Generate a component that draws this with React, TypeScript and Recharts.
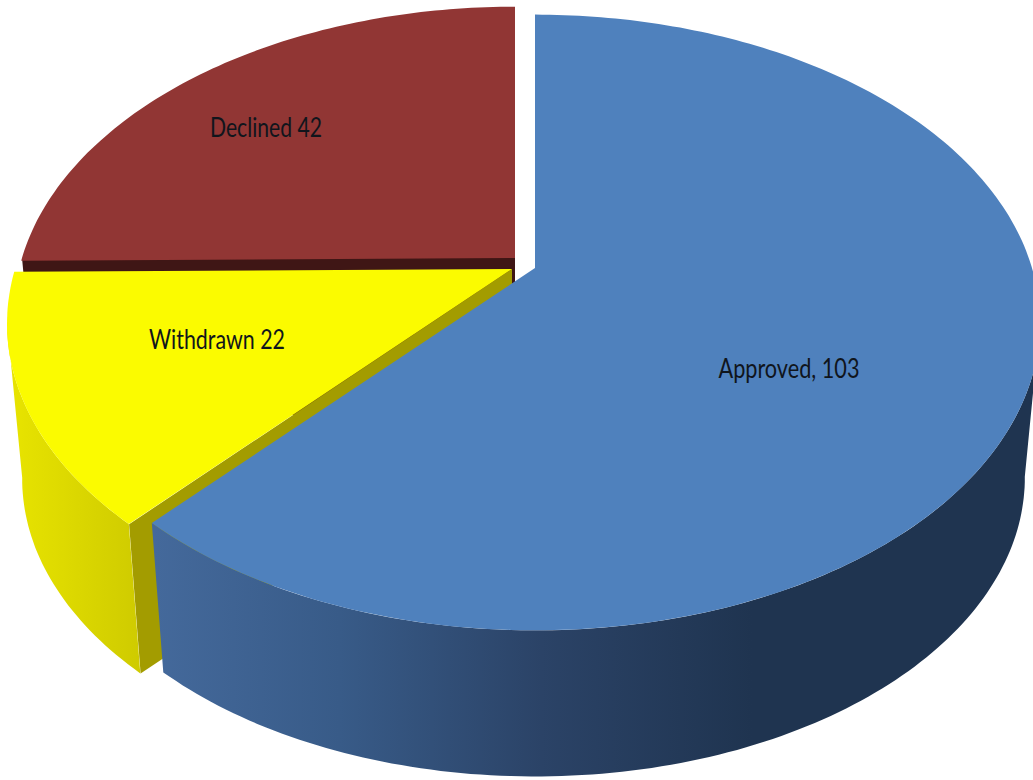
import React from 'react';
import { PieChart, Pie } from 'recharts';

const categories = ['Declined', 'Withdrawn', 'Approved'];
const values = [42, 22, 103];
const labels = ['Declined 42', 'Withdrawn 22', 'Approved, 103'];

const rows = categories.map((name, i) => ({ name, value: values[i], text: labels[i] }));

// Perspective of the tilted disc
const TILT = 0.177;
const Y_SQUASH = 0.6;
const DEPTH = 157;
const BASE_SCALE = 0.97;
const RIM_FROM = 190;
const RIM_TO = 350;

const LOOK: Record<string, any> = {
  Approved: { top: '#4f81bd', wall: '#1f3450', side: 'url(#sideBlue)', dx: 0, dy: 0, s: 1, lx: 254, ly: 101, tw: 141, cut: 360 },
  Withdrawn: { top: '#fbfb00', wall: '#a39c00', side: 'url(#sideYellow)', dx: -23, dy: 1, s: 1, lx: -318, ly: 72, tw: 136, cut: 228 },
  Declined: { top: '#913634', wall: '#3f1615', side: '#3f1615', dx: -20, dy: -10, s: 0.992, lx: -269, ly: -140, tw: 112, cut: 180 },
};

const project = (cx: number, cy: number, r: number, deg: number, scale = 1) => {
  const a = (deg * Math.PI) / 180;
  const u = Math.cos(a);
  const v = Math.sin(a);
  const w = 1 + TILT * v;
  return [cx + (scale * r * u) / w, cy - (scale * r * Y_SQUASH * v) / w];
};

const arc = (cx: number, cy: number, r: number, from: number, to: number, scale = 1) => {
  const pts: number[][] = [];
  const n = Math.max(2, Math.ceil(Math.abs(to - from)));
  for (let i = 0; i <= n; i++) pts.push(project(cx, cy, r, from + ((to - from) * i) / n, scale));
  return pts;
};

const toPath = (pts: number[][]) =>
  'M' + pts.map((p) => `${p[0].toFixed(1)},${p[1].toFixed(1)}`).join('L') + 'Z';

const DiscSlice = (props: any) => {
  const { cx, cy, outerRadius, startAngle, endAngle, payload, name } = props;
  const key = payload?.name ?? name;
  const look = LOOK[key];
  const x = cx + look.dx;
  const y = cy + look.dy;
  const r = outerRadius * look.s;
  const a0 = Math.min(startAngle, endAngle);
  const a1 = Math.max(startAngle, endAngle);
  const topArc = arc(x, y, r, a0, a1);

  // outer rim: the part of the arc on the near side of the disc
  const rimFrom = Math.max(a0, RIM_FROM);
  const rimTo = Math.min(a1, RIM_TO);
  let rim = null;
  if (rimTo > rimFrom) {
    const upper = arc(x, y, r, rimFrom, rimTo);
    const lower = arc(x, y + DEPTH, r, rimFrom, rimTo, BASE_SCALE).reverse();
    rim = <path d={toPath([...upper, ...lower])} fill={look.side} />;
  }

  // straight cut face, running from the apex to the arc end
  const edgeTop = project(x, y, r, look.cut);
  const edgeBottom = project(x, y + DEPTH, r, look.cut, BASE_SCALE);
  const cut = (
    <path
      d={toPath([[x, y], edgeTop, edgeBottom, [x, y + DEPTH]])}
      fill={look.wall}
    />
  );

  return (
    <g>
      {key !== 'Approved' && cut}
      {rim}
      <path d={toPath([[x, y], ...topArc])} fill={look.top} />
    </g>
  );
};

const SliceLabel = (props: any) => {
  const { cx, cy, payload, name } = props;
  const key = payload?.name ?? name;
  const look = LOOK[key];
  const row = rows.find((r) => r.name === key);
  return (
    <text
      x={cx + look.lx}
      y={cy + look.ly + 9}
      textAnchor="middle"
      fontFamily="Lato, 'Open Sans', sans-serif"
      fontSize={26}
      fill="#10151c"
      textLength={look.tw}
      lengthAdjust="spacingAndGlyphs"
    >
      {row?.text}
    </text>
  );
};

export default function App() {
  return (
    <div style={{ position: 'absolute', left: 0, top: 0, width: 1033, height: 780, background: '#fff', overflow: 'hidden' }}>
      <PieChart width={1033} height={780} margin={{ top: 0, right: 0, bottom: 0, left: 0 }}>
        <defs>
          <linearGradient id="sideBlue" gradientUnits="userSpaceOnUse" x1="155" y1="0" x2="1033" y2="0">
            <stop offset="0" stopColor="#44699b" />
            <stop offset="0.21" stopColor="#385b88" />
            <stop offset="0.44" stopColor="#2b4367" />
            <stop offset="0.68" stopColor="#1f3450" />
            <stop offset="1" stopColor="#1f3450" />
          </linearGradient>
          <linearGradient id="sideYellow" gradientUnits="userSpaceOnUse" x1="10" y1="0" x2="140" y2="0">
            <stop offset="0" stopColor="#e8e400" />
            <stop offset="1" stopColor="#cfcb00" />
          </linearGradient>
        </defs>
        <Pie
          data={rows}
          dataKey="value"
          nameKey="name"
          cx={535}
          cy={268}
          innerRadius={0}
          outerRadius={497}
          startAngle={90}
          endAngle={450}
          stroke="none"
          isAnimationActive={false}
          shape={DiscSlice}
          label={SliceLabel}
          labelLine={false}
        />
      </PieChart>
    </div>
  );
}
